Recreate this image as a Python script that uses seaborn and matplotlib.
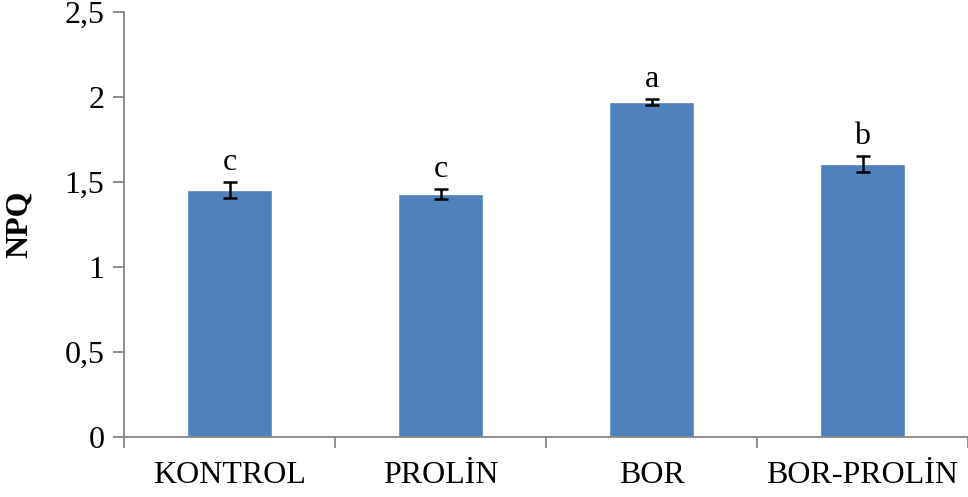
import matplotlib
matplotlib.use("Agg")
import matplotlib.pyplot as plt
import seaborn as sns
import pandas as pd

groups = ["KONTROL", "PROLİN", "BOR", "BOR-PROLİN"]
npq = [1.453, 1.428, 1.970, 1.606]
npq_err = [0.047, 0.030, 0.016, 0.047]
letters = ["c", "c", "a", "b"]
y_ticks = [0, 0.5, 1, 1.5, 2, 2.5]
y_tick_labels = ["0", "0,5", "1", "1,5", "2", "2,5"]

sns.set_theme(style="white")
plt.rcParams["font.family"] = ["Liberation Serif", "DejaVu Serif"]
plt.rcParams["text.color"] = "black"
plt.rcParams["axes.labelcolor"] = "black"
plt.rcParams["xtick.labelcolor"] = "black"
plt.rcParams["ytick.labelcolor"] = "black"

df = pd.DataFrame({"group": groups, "npq": npq})

fig = plt.figure(figsize=(9.68, 4.97), dpi=100)
ax = fig.add_axes([124 / 968, 1 - 437 / 497, 1 - 124 / 968, 425 / 497])

sns.barplot(data=df, x="group", y="npq", color="#4F81BD", saturation=1,
            width=0.40, errorbar=None, ax=ax)
ax.errorbar(range(len(groups)), npq, yerr=npq_err, fmt="none",
            ecolor="black", elinewidth=1.8, capsize=5, capthick=1.8, zorder=5)

fs = 23
for i, (v, e, t) in enumerate(zip(npq, npq_err, letters)):
    ax.text(i, v + e + 0.07, t, ha="center", va="baseline", fontsize=fs,
            color="black")

ax.set_xlim(-0.5, len(groups) - 0.5)
ax.set_ylim(0, 2.5)
ax.set_yticks(y_ticks)
ax.set_yticklabels(y_tick_labels, fontsize=fs, color="black")
ax.set_xticks(range(len(groups)))
ax.set_xticklabels(groups, fontsize=fs, color="black")
ax.set_xlabel("")
ax.set_ylabel("NPQ", fontsize=fs, fontweight="bold", labelpad=22,
              color="black")

axis_grey = "#868686"
for side in ["top", "right"]:
    ax.spines[side].set_visible(False)
for side in ["left", "bottom"]:
    ax.spines[side].set_color(axis_grey)
    ax.spines[side].set_linewidth(1.3)

ax.tick_params(axis="y", which="major", direction="out", length=8,
               width=1.3, color=axis_grey, left=True, pad=6)
# category boundaries carry the x ticks, labels stay at centres
ax.tick_params(axis="x", which="major", length=0, pad=17)
ax.set_xticks([i - 0.5 for i in range(len(groups) + 1)], minor=True)
ax.tick_params(axis="x", which="minor", direction="out", length=8,
               width=1.3, color=axis_grey, bottom=True)

fig.savefig("out.png", dpi=100)
